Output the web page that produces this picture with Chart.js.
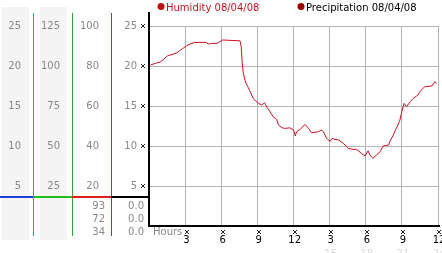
<!DOCTYPE html>
<html>
<head>
<meta charset="utf-8">
<script src="https://cdn.jsdelivr.net/npm/chart.js@4.4.0/dist/chart.umd.min.js"></script>
<style>
  body { margin: 0; background: #fff; }
  canvas { display: block; }
</style>
</head>
<body>
<canvas id="myChart" width="442" height="253"></canvas>
<script>
// Humidity readings for 08/04/08 (hour of day -> percent)
const hours = [0, 0.4, 0.8, 1.1, 1.4, 1.8, 2.2, 2.5, 2.7, 3.0,
  3.3, 3.7, 4.65, 4.8, 5.15, 5.55, 6.0, 7.45, 7.55, 7.63,
  7.72, 7.9, 8.1, 8.3, 8.55, 8.75, 9.0, 9.25, 9.5, 9.7,
  9.95, 10.25, 10.5, 10.65, 10.95, 11.2, 11.6, 11.9, 12.05, 12.15,
  12.45, 12.85, 13.15, 13.4, 13.95, 14.2, 14.4, 14.65, 14.95, 15.1,
  15.35, 15.65, 16.05, 16.45, 16.85, 17.15, 17.55, 17.85, 18.1, 18.25,
  18.5, 18.8, 19.1, 19.35, 19.8, 19.9, 20.2, 20.45, 20.75, 20.9,
  21.1, 21.3, 21.6, 21.85, 22.25, 22.4, 22.8, 23.4, 23.65, 23.8]
const humidity = [80.5, 81.3, 82, 83.3, 85, 85.8, 86.6, 88, 88.8, 90.1,
  91, 91.8, 91.8, 91, 91.3, 91.3, 93, 92.6, 89.6, 81.5,
  76.5, 72, 69.6, 67.1, 63.8, 62.5, 61.3, 60.5, 61.6, 59.3,
  57.1, 54.3, 53.3, 50.5, 49.1, 48.8, 49.1, 48, 45, 47.1,
  48.3, 50.8, 48.8, 46.6, 47.1, 48, 47.1, 43.8, 42.3, 43.8,
  43.3, 43, 41.3, 38.8, 38.3, 38.3, 36.3, 35, 37.6, 35.5,
  33.8, 35.5, 37.1, 40, 40.5, 42.1, 45.5, 48.8, 53, 57.1,
  61.3, 59.6, 62.1, 63.8, 65.5, 67.1, 69.6, 70, 72.1, 71.4]
const precipitation = []   // no rain that day

const seriesNames = ['Humidity 08/04/08', 'Precipitation 08/04/08']
const hourTicks = [3, 6, 9, 12, 15, 18, 21, 24]
const hourLabels = ['3', '6', '9', '12', '3', '6', '9', '12']
const lateHourLabels = ['', '', '', '', '15', '18', '21', '24']
const humStats = ['93', '72', '34']      // max, last, min
const rainStats = ['0.0', '0.0', '0.0']

const FONT = { family: '"DejaVu Sans"', size: 10 }
const GREY = '#888'

// the side columns share the same vertical range (0-25 units plus some headroom)
const TOP = 26.625

function sideAxis(factor, step, color, weight, width) {
  return {
    type: 'linear', position: 'left', weight,
    min: 0, max: TOP * factor,
    afterFit: s => { s.width = width; s.paddingTop = 0; s.paddingBottom = 0 },
    grid: { display: false, drawTicks: false },
    border: { color, width: 1 },
    ticks: {
      stepSize: step, includeBounds: false, autoSkip: false,
      padding: 12, color: GREY, font: FONT,
      callback: v => v === 0 ? '' : v
    }
  }
}

function xMark(ctx, cx, cy) {
  ctx.fillStyle = '#222'
  const px = [[0,0],[3,0],[1,1],[2,1],[1,2],[2,2],[0,3],[3,3]]
  px.forEach(p => ctx.fillRect(Math.round(cx - 2) + p[0], Math.round(cy - 2) + p[1], 1, 1))
}

const extras = {
  id: 'extras',
  beforeDraw(chart) {
    const ctx = chart.ctx
    const a = chart.scales.yA, b = chart.scales.yB
    ctx.save()
    ctx.fillStyle = '#f4f4f4'
    ctx.fillRect(a.left + 2, 7, a.width - 6, 233)
    ctx.fillRect(b.left + 7, 7, b.width - 12, 233)
    ctx.restore()
  },
  beforeDatasetsDraw(chart) {
    const ctx = chart.ctx
    const x = chart.scales.x, y = chart.scales.y
    const area = chart.chartArea
    ctx.save()
    ctx.strokeStyle = '#b4b4b4'
    ctx.lineWidth = 1
    hourTicks.forEach(h => {
      const px = Math.floor(x.getPixelForValue(h)) - 0.5
      ctx.beginPath()
      ctx.moveTo(px, Math.round(y.getPixelForValue(25)))
      ctx.lineTo(px, area.bottom - 1)
      ctx.stroke()
    })
    ctx.restore()
  },
  afterDraw(chart) {
    const ctx = chart.ctx
    const area = chart.chartArea
    const s = chart.scales
    ctx.save()

    // column lines run a little below the plot
    const cols = [[s.yA, '#2f9ad2', '#1f3fd8'], [s.yB, '#2ea52e', '#22bb22'], [s.yHum, '#c02a2a', '#e02020'], [s.y, '#000', '#000']]
    const splitY = Math.round(s.y.getPixelForValue(3.6))
    cols.forEach(([sc, vCol, hCol], i) => {
      if (i < 3) {
        ctx.fillStyle = vCol
        ctx.fillRect(Math.round(sc.right - 0.5), area.bottom, 1, 10)
      }
      ctx.fillStyle = hCol
      ctx.fillRect(Math.round(sc.left), splitY - 1, Math.round(sc.right - sc.left), 2)
    })

    // summary readings under the split line
    ctx.font = '10px "DejaVu Sans"'
    ctx.fillStyle = GREY
    ctx.textAlign = 'right'
    ctx.textBaseline = 'middle'
    humStats.forEach((t, i) => ctx.fillText(t, s.yHum.right - 6, splitY + 9 + i * 13))
    rainStats.forEach((t, i) => ctx.fillText(t, s.y.right - 5, splitY + 9 + i * 13))

    // little tick marks
    ;[5, 10, 15, 20, 25].forEach(v => xMark(ctx, s.y.right - 6, s.y.getPixelForValue(v)))
    hourTicks.forEach(h => xMark(ctx, s.x.getPixelForValue(h), area.bottom + 6))

    ctx.textAlign = 'left'
    ctx.fillStyle = GREY
    ctx.fillText('Hours', area.left + 4, area.bottom + 6)

    // legend
    const items = [
      { x: area.left + 12, dot: '#bb1111', color: '#cc1122' },
      { x: area.left + 152, dot: '#990000', color: '#000' }
    ]
    ctx.textBaseline = 'alphabetic'
    items.forEach((it, i) => {
      ctx.fillStyle = it.dot
      ctx.beginPath()
      ctx.arc(it.x, 6.5, 3.5, 0, Math.PI * 2)
      ctx.fill()
      ctx.fillStyle = it.color
      ctx.fillText(chart.data.datasets[i].label, it.x + 5, 10.5)
    })
    ctx.restore()
  }
}

const data = {
  datasets: [
    { label: seriesNames[0],
      data: hours.map((h, i) => ({ x: h, y: humidity[i] })),
      yAxisID: 'yHum', xAxisID: 'x',
      borderColor: '#cc1122', borderWidth: 1, pointRadius: 0, tension: 0 },
    { label: seriesNames[1],
      data: precipitation,
      yAxisID: 'y', xAxisID: 'x',
      borderColor: '#990000', borderWidth: 1, pointRadius: 0 }
  ]
}

const config = {
  type: 'line',
  data,
  options: {
    responsive: false,
    animation: false,
    layout: { padding: { top: 13, right: 3, left: 0, bottom: 0 } },
    plugins: { legend: { display: false }, tooltip: { enabled: false } },
    scales: {
      x: {
        type: 'linear', position: 'bottom', weight: 0, min: -0.12, max: 24,
        afterBuildTicks: sc => { sc.ticks = hourTicks.map(v => ({ value: v })) },
        afterFit: sc => { sc.height = 20; sc.paddingLeft = 0; sc.paddingRight = 0 },
        grid: { display: false, drawTicks: false },
        border: { color: '#000', width: 2 },
        ticks: { autoSkip: false, maxRotation: 0, padding: 8, color: '#000', font: FONT,
          callback: v => hourLabels[hourTicks.indexOf(v)] }
      },
      x2: {
        type: 'linear', position: 'bottom', weight: 1, min: -0.12, max: 24,
        afterBuildTicks: sc => { sc.ticks = hourTicks.map(v => ({ value: v })) },
        afterFit: sc => { sc.height = 7; sc.paddingLeft = 0; sc.paddingRight = 0 },
        grid: { display: false, drawTicks: false },
        border: { display: false },
        ticks: { autoSkip: false, maxRotation: 0, padding: 2, color: '#d8d8d8', font: FONT,
          callback: v => lateHourLabels[hourTicks.indexOf(v)] }
      },
      yA: sideAxis(1, 5, '#2f9ad2', 3, 33),
      yB: sideAxis(5, 25, '#2ea52e', 2, 39),
      yHum: sideAxis(4, 20, '#c02a2a', 1, 39),
      y: {
        type: 'linear', position: 'left', weight: 0, min: 0, max: TOP,
        afterFit: s => { s.width = 38; s.paddingTop = 0; s.paddingBottom = 0 },
        grid: { color: '#b4b4b4', drawTicks: false },
        border: { color: '#000', width: 2 },
        ticks: { stepSize: 5, includeBounds: false, autoSkip: false, padding: 12, color: GREY, font: FONT,
          callback: v => v === 0 ? '' : v }
      }
    }
  },
  plugins: [extras]
}

const myChart = new Chart(document.getElementById('myChart'), config)
</script>
</body>
</html>
